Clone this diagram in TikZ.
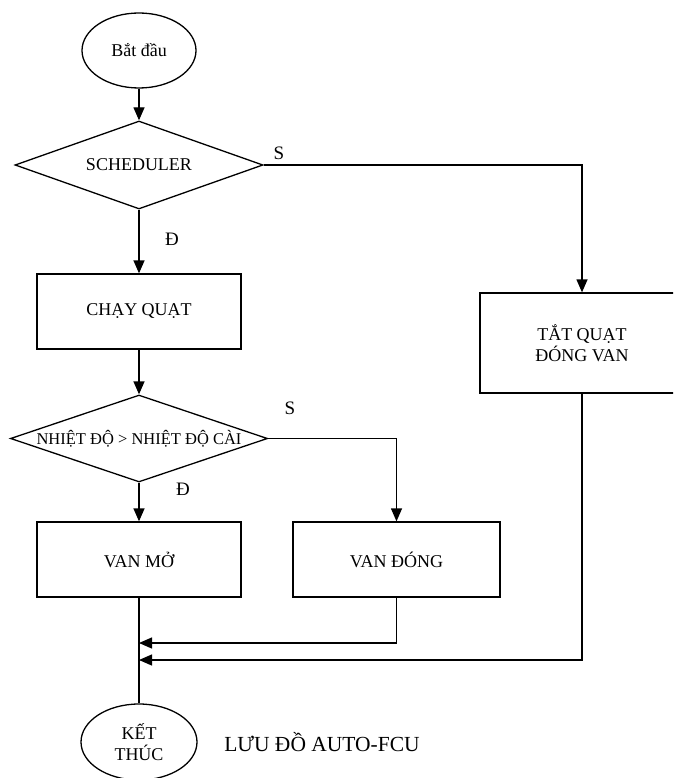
\documentclass[tikz,border=0pt]{standalone}
\usepackage{fontspec}
\setmainfont{Liberation Serif}
\usetikzlibrary{shapes.geometric,arrows.meta}

\begin{document}
\begin{tikzpicture}[x=1pt, y=-1pt, line width=1.3pt,
    every node/.style={font=\fontsize{18}{20.5}\selectfont},
    terminal/.style={draw, ellipse, inner sep=0pt, minimum width=116pt, minimum height=76pt, align=center},
    block/.style={draw, rectangle, inner sep=0pt, minimum width=204pt, minimum height=75pt, align=center},
    decision/.style={draw, diamond, inner sep=0pt},
    tag/.style={font=\fontsize{19}{22}\selectfont},
    arr/.style={-{Triangle[length=13pt,width=11pt]}}]
\useasboundingbox (0,0) rectangle (673,778);
\clip (0,0) rectangle (673,778);
       % Flowchart of AUTO-FCU
\node[terminal, minimum width=114pt, minimum height=75pt] (start) at (139, 50.5) {Bắt đầu};
\node[decision, minimum width=248pt, minimum height=88pt, label={center:SCHEDULER}] (sched) at (139, 165) {};
\node[block] (run) at (139, 311.5) {CHẠY QUẠT};
\node[decision, minimum width=257pt, minimum height=87pt,
      label={[font=\fontsize{16.5}{20}\selectfont]center:NHIỆT ĐỘ > NHIỆT ĐỘ CÀI}] (cmp) at (139, 438.5) {};
\node[block] (open) at (139, 559.5) {VAN MỞ};
\node[block, minimum width=207pt] (close) at (396.5, 559.5) {VAN ĐÓNG};
\node[block, minimum height=100pt] (off) at (582, 343) {TẮT QUẠT\\ĐÓNG VAN};
\node[terminal] (stop) at (139, 742) {KẾT\\THÚC};
\node[font=\fontsize{21.5}{24}\selectfont] (title) at (322, 742) {LƯU ĐỒ AUTO-FCU};

% Branch labels
\node[tag] (s1) at (279, 153) {S};
\node[tag] (d1) at (172, 239) {Đ};
\node[tag] (s2) at (290, 408) {S};
\node[tag] (d2) at (183, 489) {Đ};

% Joints on the main line
\coordinate (j1) at (139, 643);
\coordinate (j2) at (139, 660);

% Arrows between blocks
\draw[arr] (start) -- (sched);
\draw[arr] (sched) -- (run);
\draw[arr] (run) -- (cmp);
\draw[arr] (cmp) -- (open);
\draw[arr] (sched.east) -| (off.north);
\draw[arr] (cmp.east) -| (close.north);
\draw (open) -- (stop);

% Return lines to the main line
\draw[arr] (close.south) |- (j1);
\draw[arr] (off.south) |- (j2);

    \end{tikzpicture}
\end{document}
